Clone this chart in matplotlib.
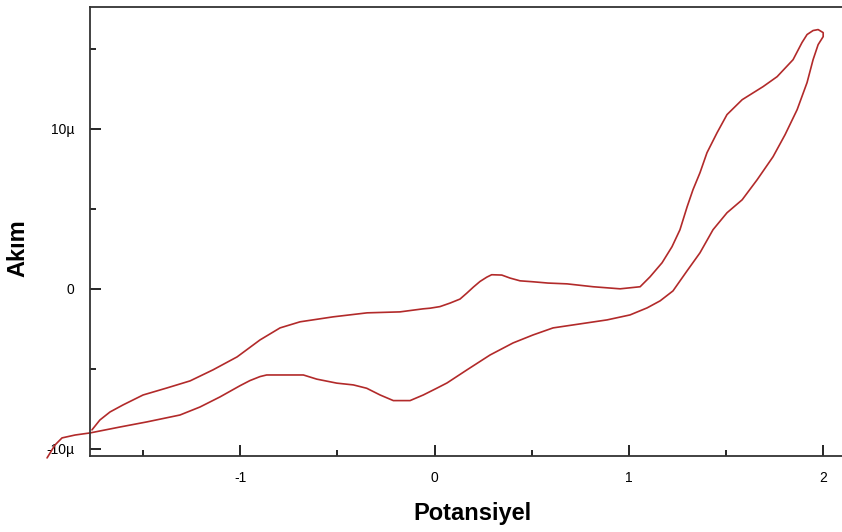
import numpy as np
import matplotlib
matplotlib.use("Agg")
import matplotlib.pyplot as plt
from matplotlib.ticker import FixedLocator

plt.rcParams['font.family'] = ['Liberation Sans', 'DejaVu Sans']

# Potansiyel (V) ve Akım (µA) - ileri tarama (alt kol) + uç + geri tarama (üst kol)
potansiyel_ileri = [-1.994, -1.953, -1.917, -1.850, -1.773, -1.619, -1.480, -1.310, -1.207,
                    -1.104, -1.001, -0.950, -0.898, -0.864, -0.675, -0.606, -0.503, -0.418,
                    -0.349, -0.280, -0.212, -0.126, -0.058, 0.011, 0.064, 0.167, 0.286,
                    0.404, 0.507, 0.610, 0.749, 0.888, 1.006, 1.094, 1.161, 1.227, 1.300,
                    1.366, 1.433, 1.505, 1.583, 1.660, 1.742, 1.804, 1.866, 1.917, 1.948,
                    1.974, 2.000]
akim_ileri = [-10.56, -9.75, -9.31, -9.13, -9.00, -8.63, -8.31, -7.88, -7.38,
              -6.75, -6.05, -5.73, -5.48, -5.38, -5.38, -5.64, -5.89, -6.00,
              -6.21, -6.63, -6.98, -6.98, -6.63, -6.21, -5.88, -5.06, -4.13,
              -3.38, -2.88, -2.44, -2.19, -1.94, -1.63, -1.19, -0.75, -0.13, 1.13,
              2.25, 3.69, 4.75, 5.56, 6.81, 8.25, 9.63, 11.19, 12.88, 14.31,
              15.25, 15.75]

potansiyel_uc = [2.000, 1.974, 1.948, 1.917]
akim_uc = [16.00, 16.19, 16.13, 15.88]

potansiyel_geri = [1.891, 1.845, 1.763, 1.691, 1.583, 1.505, 1.454, 1.402, 1.366, 1.330,
                   1.300, 1.263, 1.222, 1.171, 1.109, 1.058, 0.955, 0.816, 0.682, 0.584,
                   0.507, 0.440, 0.389, 0.346, 0.294, 0.269, 0.234, 0.200, 0.166, 0.131,
                   0.080, 0.028, -0.023, -0.059, -0.178, -0.347, -0.522, -0.692, -0.795,
                   -0.898, -1.016, -1.140, -1.258, -1.377, -1.500, -1.603, -1.670, -1.722,
                   -1.763]
akim_geri = [15.38, 14.31, 13.25, 12.63, 11.81, 10.88, 9.75, 8.50, 7.25, 6.19,
             5.13, 3.69, 2.63, 1.63, 0.75, 0.13, 0.00, 0.13, 0.31, 0.36,
             0.44, 0.50, 0.67, 0.86, 0.88, 0.73, 0.46, 0.11, -0.27, -0.64,
             -0.89, -1.11, -1.21, -1.25, -1.44, -1.50, -1.75, -2.06, -2.44,
             -3.19, -4.25, -5.06, -5.75, -6.19, -6.63, -7.25, -7.69, -8.19,
             -8.81]

x = np.array(potansiyel_ileri + potansiyel_uc + potansiyel_geri)
y = np.array(akim_ileri + akim_uc + akim_geri) * 1e-6

fig = plt.figure(figsize=(8.42, 5.32), dpi=100)
ax = fig.add_axes([90 / 842, (532 - 456) / 532, 760 / 842, 449 / 532])

ax.plot(x, y, color='#b22a2a', linewidth=1.2, clip_on=False,
        solid_joinstyle='round', solid_capstyle='round')

ax.set_xlim(-1.773, 2.138)
ax.set_ylim(-10.44e-6, 17.6e-6)

ax.xaxis.set_major_locator(FixedLocator([-1, 0, 1, 2]))
ax.xaxis.set_minor_locator(FixedLocator([-1.5, -0.5, 0.5, 1.5]))
ax.yaxis.set_major_locator(FixedLocator([-10e-6, 0, 10e-6]))
ax.yaxis.set_minor_locator(FixedLocator([-5e-6, 5e-6, 15e-6]))
ax.set_xticklabels(['-1', '0', '1', '2'])
ax.set_yticklabels(['-10µ', '0', '10µ'])

ax.tick_params(which='major', direction='in', length=8, width=1.2, labelsize=10, pad=11)
ax.tick_params(which='minor', direction='in', length=4, width=1.2)
ax.tick_params(axis='y', which='both', right=False)
ax.tick_params(axis='x', which='both', top=False)

for side in ['left', 'top', 'bottom']:
    ax.spines[side].set_linewidth(1.3)
    ax.spines[side].set_color('#333333')
ax.spines['right'].set_visible(False)

ax.set_xlabel('Potansiyel', fontsize=17, fontweight='bold')
ax.set_ylabel('Akım', fontsize=17, fontweight='bold')
ax.xaxis.set_label_coords((472 - 90) / 760, (456 - 502) / 449)
ax.yaxis.set_label_coords((29 - 90) / 760, (456 - 248) / 449)

fig.savefig('out.png', dpi=100)
